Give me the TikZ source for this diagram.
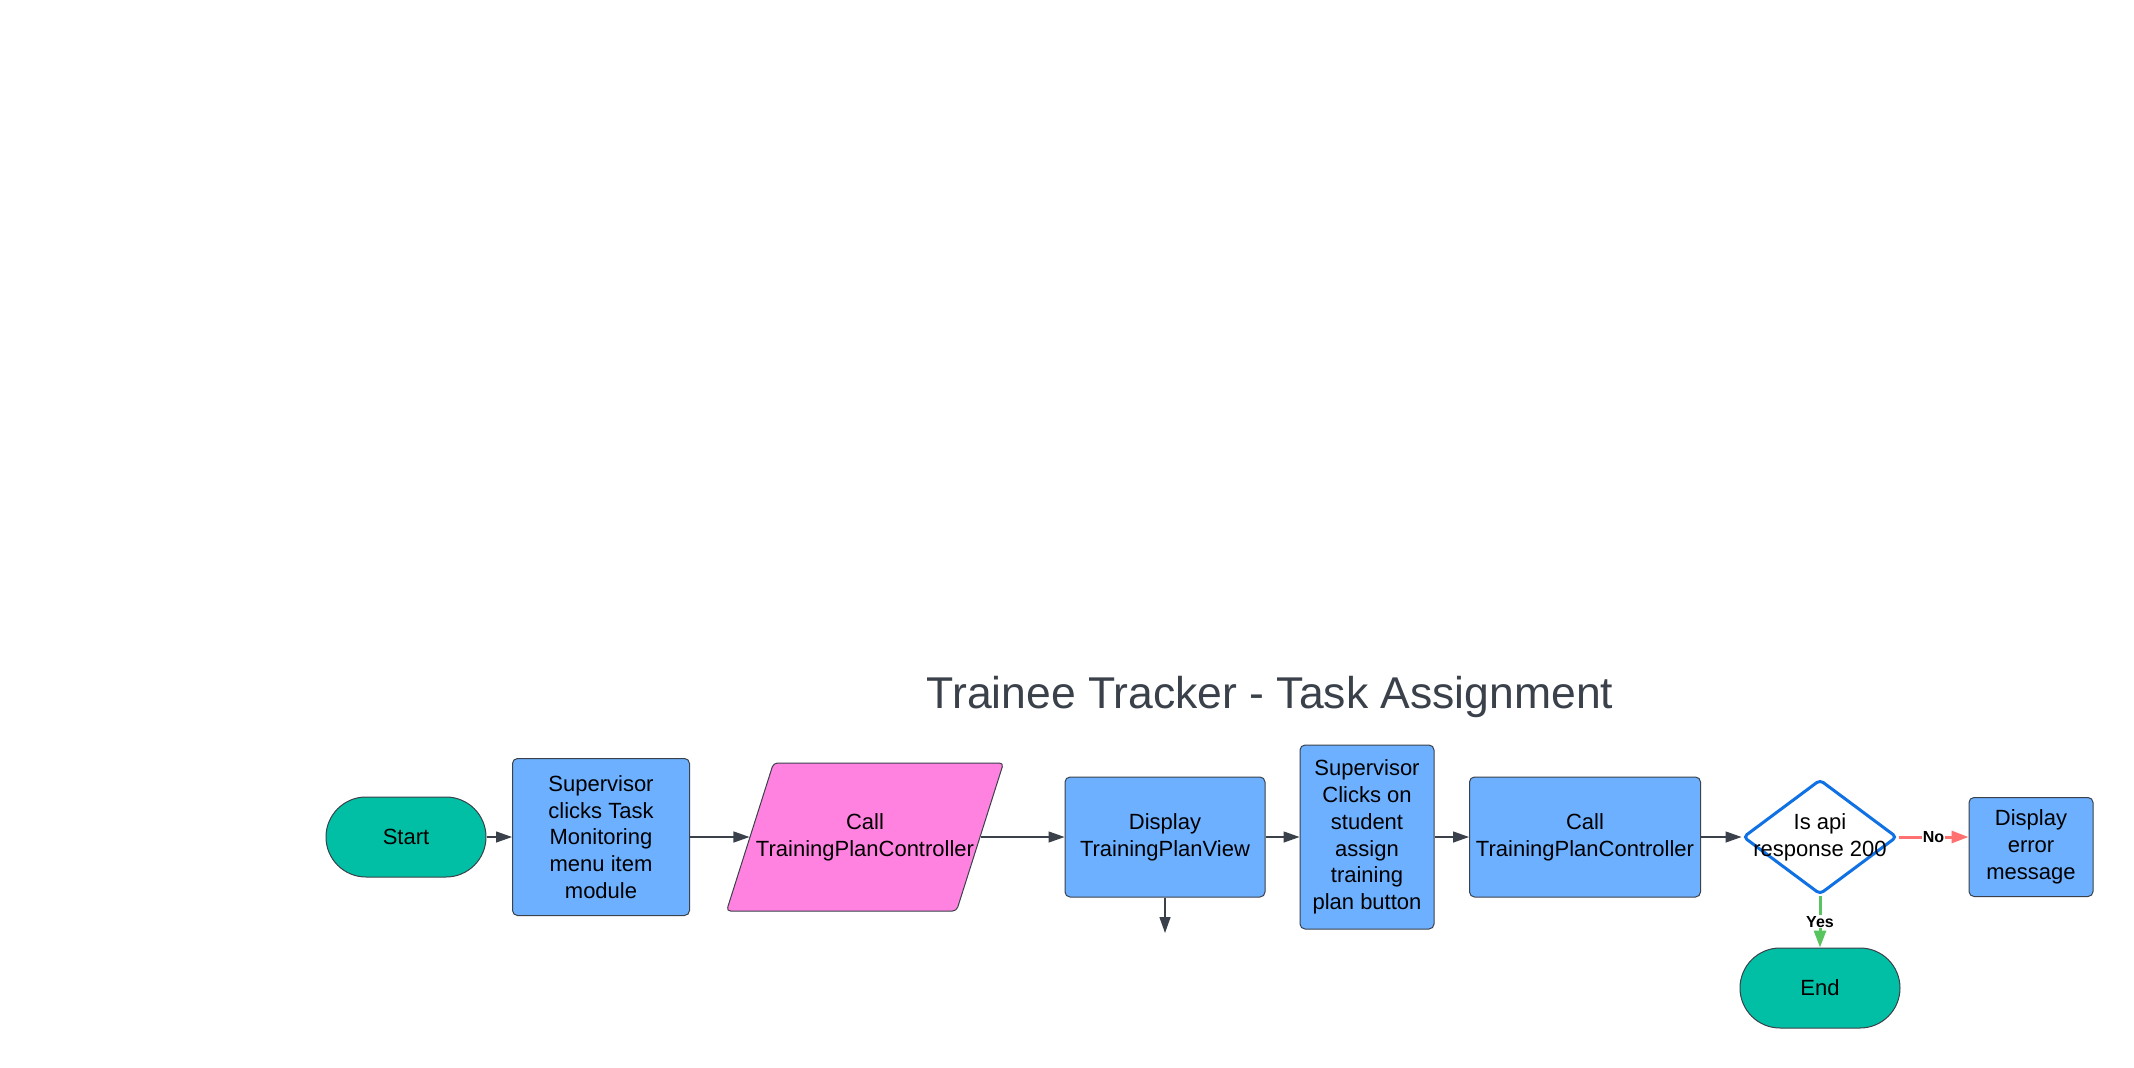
\documentclass[tikz,border=0pt]{standalone}
\usepackage{fontspec}
\setmainfont{Liberation Sans}
\usepackage{tikz}
\usetikzlibrary{arrows.meta, shapes, backgrounds}

\definecolor{lucidteal}{RGB}{0,191,165}
\definecolor{lucidblue}{RGB}{108,176,255}
\definecolor{lucidpink}{RGB}{255,130,224}
\definecolor{lucidline}{RGB}{58,65,74}
\definecolor{decblue}{RGB}{16,113,229}
\definecolor{yesgreen}{RGB}{88,196,94}
\definecolor{nored}{RGB}{255,112,112}

\newcommand{\boxtext}{\fontsize{22}{26.7}\selectfont}

\begin{document}
\begin{tikzpicture}[x=1pt, y=-1pt,
  background rectangle/.style={fill=white}, show background rectangle, inner frame sep=0pt,
  box/.style={draw=lucidline, line width=1pt, fill=lucidblue, rounded corners=5pt},
  terminal/.style={draw=lucidline, line width=1pt, fill=lucidteal, rounded corners=40pt, minimum height=80pt}]
\useasboundingbox (0,0) rectangle (2134,1068);

\node[anchor=base, text=lucidline, font=\fontsize{44.5}{52}\selectfont] (title) at (1270,708) {Trainee Tracker - Task Assignment};

\begin{scope}[every node/.style={font=\boxtext, align=center, text=black}]
  \node[terminal, minimum width=160pt] (start) at (406,837) {Start};
  \node[box, minimum width=177pt, minimum height=157pt] (menu) at (601,837) {Supervisor\\clicks Task\\Monitoring\\menu item\\module};
  \node[shape=trapezium, trapezium left angle=75.6, trapezium right angle=104.4, trapezium stretches=true, draw=lucidline, line width=1pt, fill=lucidpink, rounded corners=4pt,
        minimum width=277pt, minimum height=148pt, label=center:{Call\\TrainingPlanController}] (callA) at (865,837) {};
  \node[box, minimum width=200pt, minimum height=120pt] (view) at (1165,837) {Display\\TrainingPlanView};
  \node[box, minimum width=134pt, minimum height=184pt] (assign) at (1367,837) {Supervisor\\Clicks on\\student\\assign\\training\\plan button};
  \node[box, minimum width=231pt, minimum height=120pt] (callB) at (1585,837) {Call\\TrainingPlanController};
  \node[shape=diamond, draw=decblue, line width=3pt, fill=white, rounded corners=4pt, minimum width=154pt, minimum height=115pt,
        label=center:{Is api\\response 200}] (check) at (1820,837) {};
  \node[box, minimum width=124pt, minimum height=99pt] (err) at (2031,847) {Display\\error\\message};
  \node[terminal, minimum width=160pt] (end) at (1820,988) {End};
  \coordinate (viewout) at (1165,933);
\end{scope}

\begin{scope}[>={Triangle[length=16pt, width=11pt]},
              every edge/.style={draw=lucidline, line width=1.3pt}]
    \path [->] (start) edge (menu);
    \path [->] (menu) edge (callA);
    \path [->] (callA) edge (view);
    \path [->] (view) edge (assign);
    \path [->] (assign) edge (callB);
    \path [->] (callB) edge (check);
    \path [->] (view) edge (viewout);
\end{scope}

\begin{scope}[>={Triangle[length=17pt, width=12pt]},
              every node/.style={fill=white, text=black, inner sep=1pt, font=\bfseries\fontsize{16}{18}\selectfont}]
    \path [->] (check.east) edge[draw=nored, line width=3pt] node {No} (check.east -| err.west);
    \path [->] (check.south) edge[draw=yesgreen, line width=3pt] node {Yes} (end.north);
\end{scope}

\end{tikzpicture}
\end{document}
